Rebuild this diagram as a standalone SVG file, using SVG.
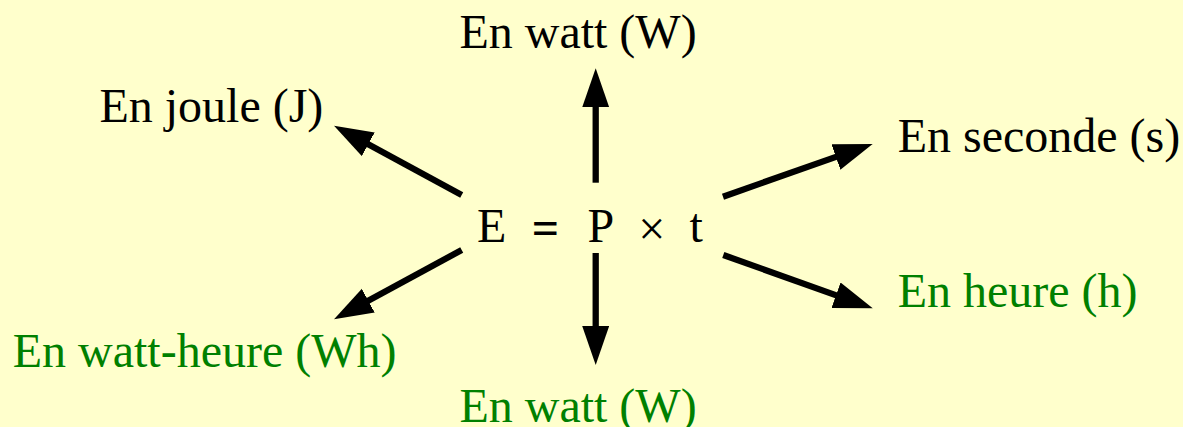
<svg xmlns="http://www.w3.org/2000/svg" width="1183" height="427" viewBox="0 0 1183 427">
<style>
text{font-family:'Liberation Serif','Times New Roman',serif;font-size:48px;fill:#000}
.g{fill:#008000}
.c line{stroke:#000;stroke-width:6.3;fill:none}
</style>
<defs>
<marker id="ah" markerUnits="userSpaceOnUse" markerWidth="40" markerHeight="28" viewBox="0 0 40 28" refX="19" refY="13.5" orient="auto">
<path d="M0,0 L39,13.5 L0,27 z" fill="#000"/>
</marker>
</defs>
<rect width="1183" height="427" fill="#FFFFCC"/>
<g id="connectors" class="c">
<line x1="461.7" y1="195" x2="351.6" y2="135.2" marker-end="url(#ah)"/>
<line x1="595.7" y1="182.7" x2="595.7" y2="88.3" marker-end="url(#ah)"/>
<line x1="723" y1="196.7" x2="853.8" y2="150.6" marker-end="url(#ah)"/>
<line x1="461.7" y1="250" x2="351.6" y2="309.8" marker-end="url(#ah)"/>
<line x1="723.3" y1="255" x2="853.9" y2="301.6" marker-end="url(#ah)"/>
<line x1="595.7" y1="253" x2="595.7" y2="345" marker-end="url(#ah)"/>
</g>
<g id="formula">
<text x="477" y="242.3">E</text>
<text x="545.5" y="243.5" text-anchor="middle" font-weight="bold" font-size="54">=</text>
<text x="587.5" y="242.3">P</text>
<text x="651.7" y="245" text-anchor="middle" font-size="58">×</text>
<text x="689.5" y="242.3">t</text>
</g>
<g id="watt-top"><text x="459.4" y="48.3">En watt (W)</text></g>
<g id="joule"><text x="99.4" y="121.7">En joule (J)</text></g>
<g id="seconde"><text x="897.7" y="151.7">En seconde (s)</text></g>
<g id="watt-heure"><text class="g" x="12.7" y="366.7">En watt-heure (Wh)</text></g>
<g id="heure"><text class="g" x="897.7" y="307.3">En heure (h)</text></g>
<g id="watt-bottom"><text class="g" x="459.4" y="421.7">En watt (W)</text></g>
</svg>
